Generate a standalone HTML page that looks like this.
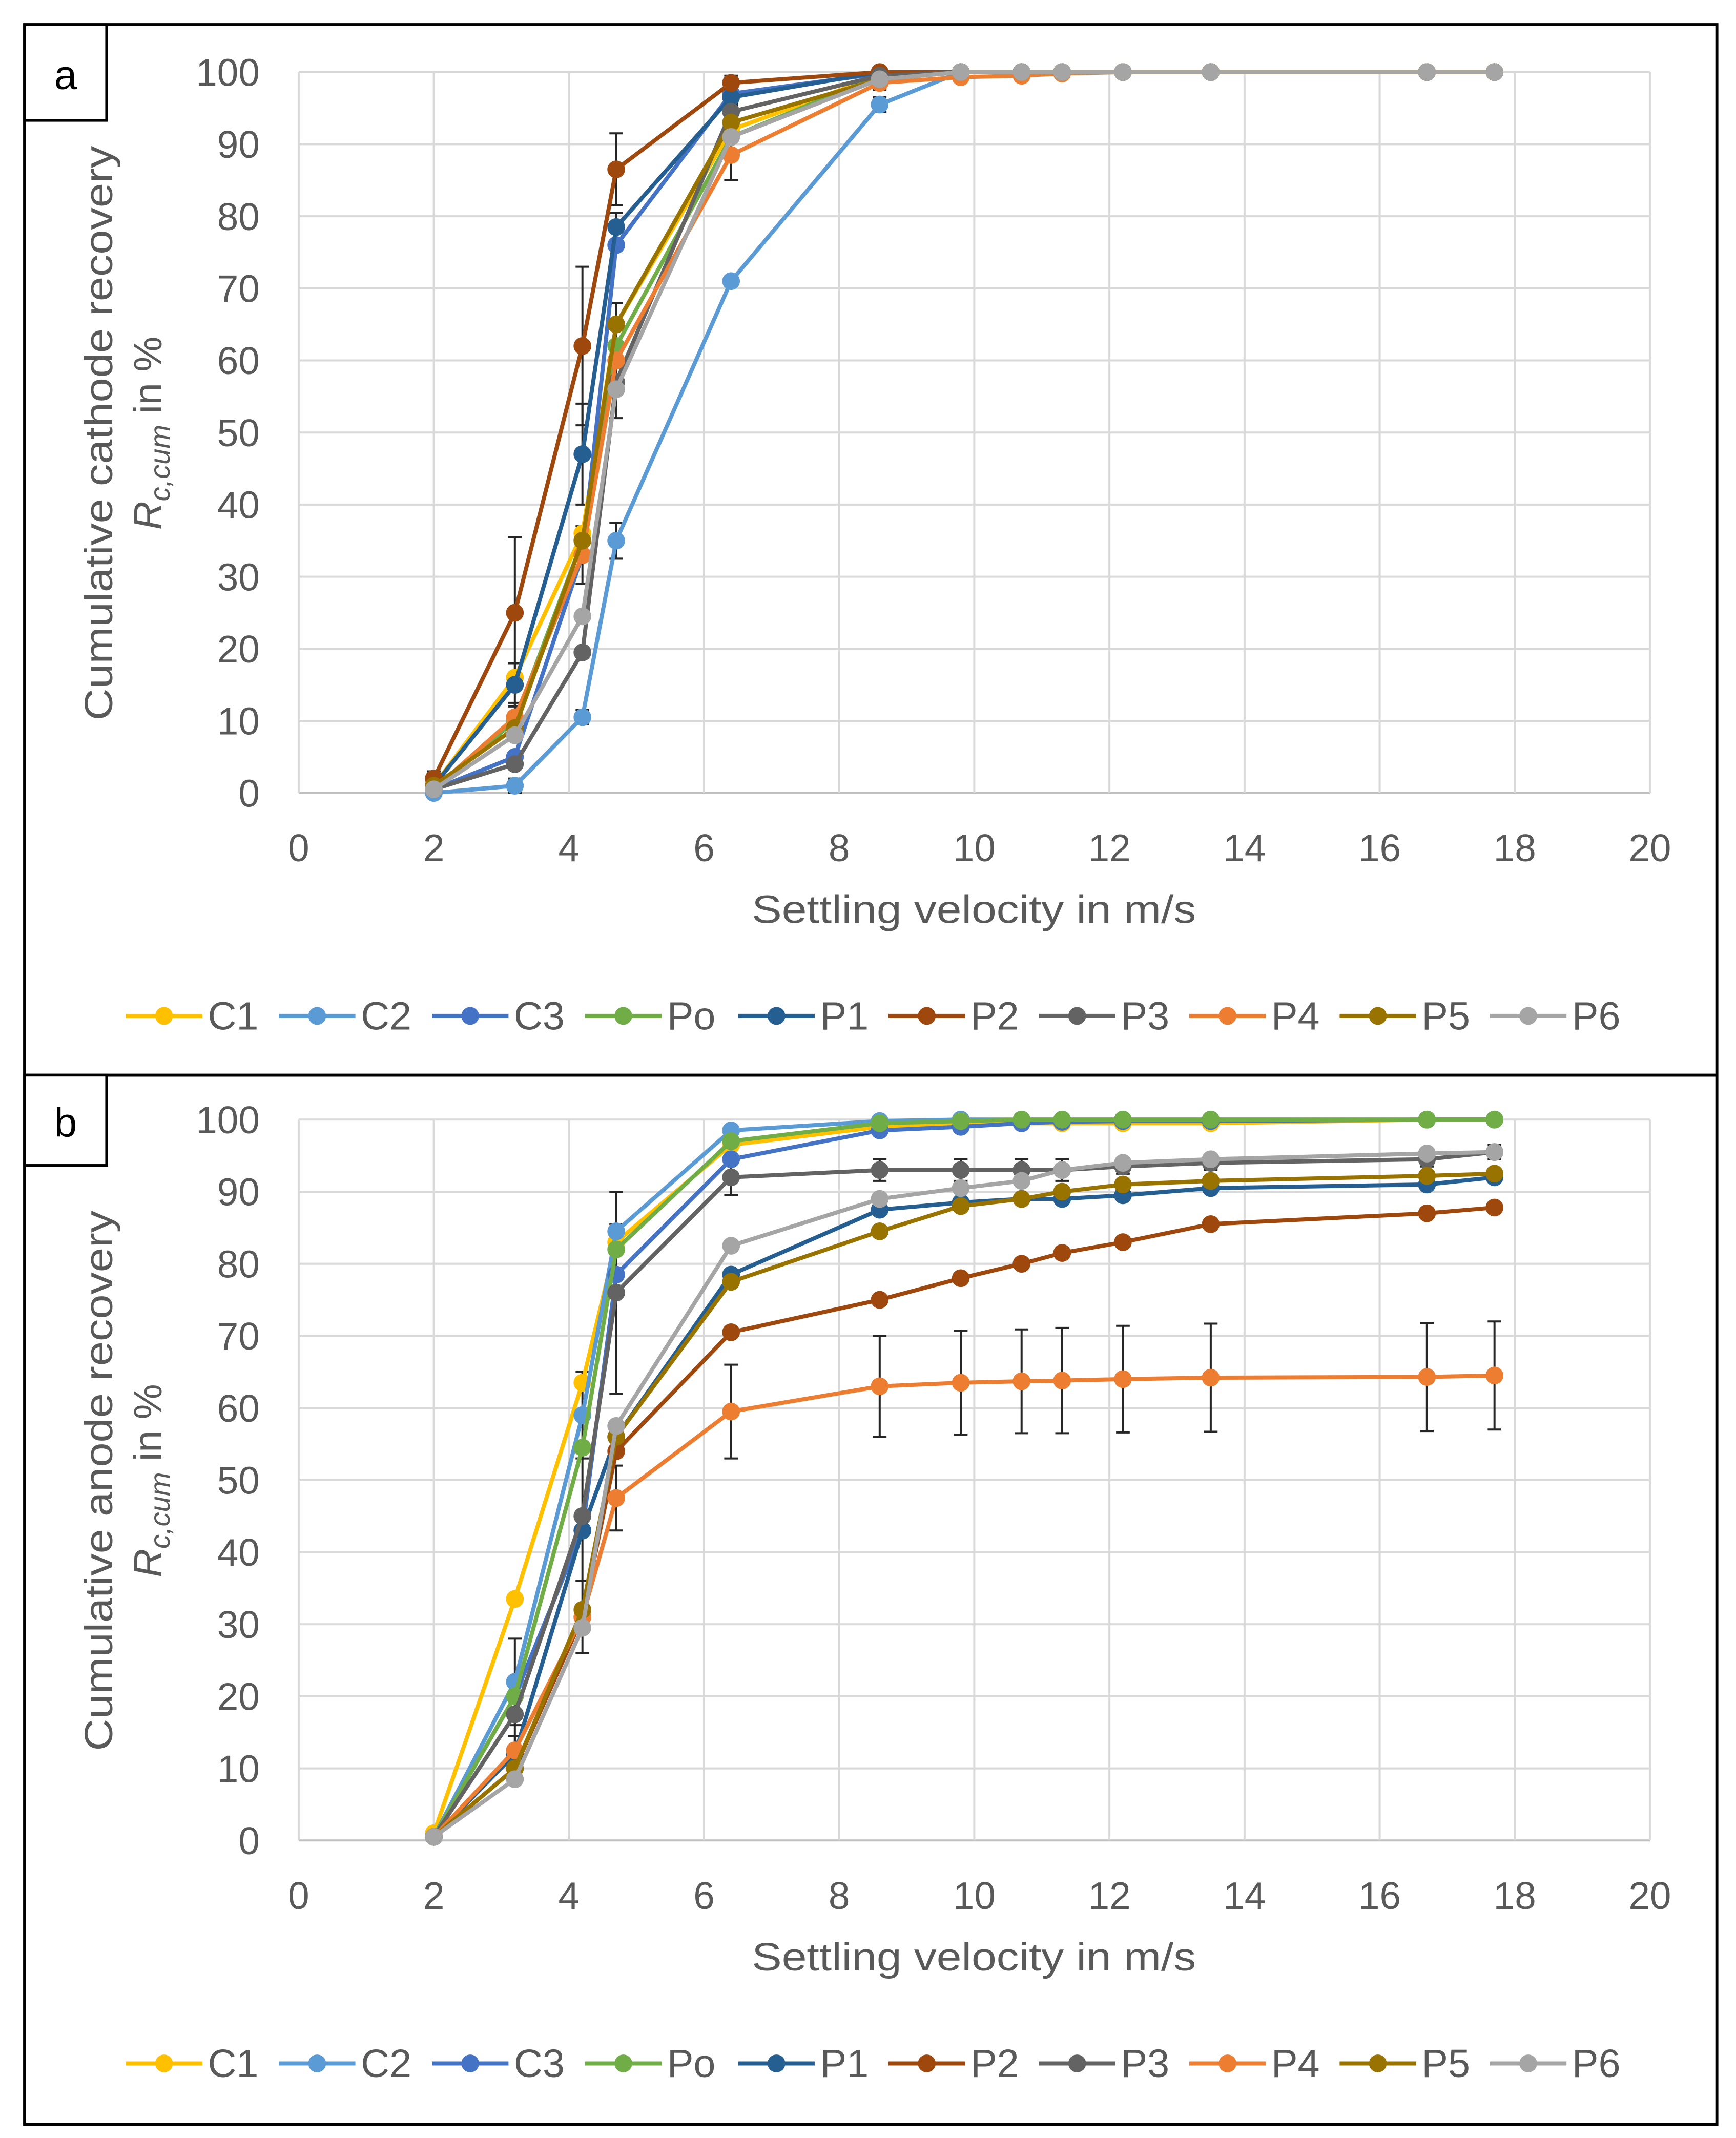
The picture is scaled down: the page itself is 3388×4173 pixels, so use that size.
<!DOCTYPE html>
<html><head><meta charset="utf-8"><style>
html,body{margin:0;padding:0;background:#fff}
svg{display:block}
text{font-family:"Liberation Sans",Arial,sans-serif;fill:#595959}
</style></head><body>
<svg id="fig" width="3388" height="4173" viewBox="0 0 1270 1563" preserveAspectRatio="none" xmlns="http://www.w3.org/2000/svg">
<rect x="0" y="0" width="1270" height="1563" fill="#fff"/>
<rect x="18" y="18" width="1238" height="1535" fill="none" stroke="#000" stroke-width="2.2"/>
<line x1="18" y1="786" x2="1256" y2="786" stroke="#000" stroke-width="2.2"/>
<rect x="18" y="18" width="60" height="70" fill="#fff" stroke="#000" stroke-width="2"/>
<text x="48" y="65" font-size="30" text-anchor="middle" style="fill:#000">a</text>
<rect x="18" y="786" width="60" height="66" fill="#fff" stroke="#000" stroke-width="2"/>
<text x="48" y="831" font-size="30" text-anchor="middle" style="fill:#000">b</text>
<g id="pa"></g><g id="pb"></g>
</svg>
<script>
const xs = [2, 3.2, 4.2, 4.7, 6.4, 8.6, 9.8, 10.7, 11.3, 12.2, 13.5, 16.7, 17.7];
const seriesNames = ["C1","C2","C3","Po","P1","P2","P3","P4","P5","P6"];
const seriesColors = ["#FFC000","#5B9BD5","#4472C4","#70AD47","#255E91","#9E480E","#636363","#ED7D31","#997300","#A5A5A5"];
const xTicks = [0,2,4,6,8,10,12,14,16,18,20];
const yTicks = [0,10,20,30,40,50,60,70,80,90,100];
// Panel a: cumulative cathode recovery
const aC1 = [1, 16, 36, 65, 92, 99.5, 100, 100, 100, 100, 100, 100, 100];
const aC2 = [0, 1, 10.5, 35, 71, 95.5, 100, 100, 100, 100, 100, 100, 100];
const aC3 = [0.5, 5, 33, 76, 97, 99.8, 100, 100, 100, 100, 100, 100, 100];
const aPo = [0.5, 10, 35, 62, 91, 99.5, 100, 100, 100, 100, 100, 100, 100];
const aP1 = [1, 15, 47, 78.5, 96.5, 100, 100, 100, 100, 100, 100, 100, 100];
const aP2 = [2, 25, 62, 86.5, 98.5, 100, 100, 100, 100, 100, 100, 100, 100];
const aP3 = [0.5, 4, 19.5, 57, 94.5, 99.5, 100, 100, 100, 100, 100, 100, 100];
const aP4 = [0.5, 10.5, 33, 60, 88.5, 98.5, 99.3, 99.5, 99.8, 100, 100, 100, 100];
const aP5 = [1, 9, 35, 65, 93, 99, 100, 100, 100, 100, 100, 100, 100];
const aP6 = [0.5, 8, 24.5, 56, 91, 99, 100, 100, 100, 100, 100, 100, 100];
const aErrP2 = [1, 10.5, 11, 5, 1, 0.5, 0, 0, 0, 0, 0, 0, 0];
const aErrP4 = [0.5, 2, 4, 8, 3.5, 1, 0.5, 0, 0, 0, 0, 0, 0];
const aErrP1 = [0.5, 3, 7, 2, 1, 0, 0, 0, 0, 0, 0, 0, 0];
const aErrC2 = [0, 1, 1, 2.5, 0.5, 1, 0, 0, 0, 0, 0, 0, 0];
// Panel b: cumulative anode recovery
const bC1 = [1, 33.5, 63.5, 83, 96.5, 99, 99.3, 99.5, 99.5, 99.5, 99.5, 100, 100];
const bC2 = [0.5, 22, 59, 84.5, 98.5, 99.8, 100, 100, 100, 100, 100, 100, 100];
const bC3 = [0.5, 20, 43, 78.5, 94.5, 98.5, 99, 99.5, 99.7, 99.8, 99.8, 100, 100];
const bPo = [0.5, 20, 54.5, 82, 97, 99.5, 99.8, 100, 100, 100, 100, 100, 100];
const bP1 = [0.5, 12, 43, 56, 78.5, 87.5, 88.5, 89, 89, 89.5, 90.5, 91, 92];
const bP2 = [0.5, 10, 31, 54, 70.5, 75, 78, 80, 81.5, 83, 85.5, 87, 87.8];
const bP3 = [0.5, 17.5, 45, 76, 92, 93, 93, 93, 93, 93.5, 94, 94.5, 95.5];
const bP4 = [0.5, 12.5, 31, 47.5, 59.5, 63, 63.5, 63.7, 63.8, 64, 64.2, 64.3, 64.5];
const bP5 = [0.5, 10, 32, 56, 77.5, 84.5, 88, 89, 90, 91, 91.5, 92.2, 92.5];
const bP6 = [0.5, 8.5, 29.5, 57.5, 82.5, 89, 90.5, 91.5, 93, 94, 94.5, 95.3, 95.5];
const bErrP4 = [0.5, 2, 5, 4.5, 6.5, 7, 7.2, 7.2, 7.3, 7.4, 7.5, 7.5, 7.5];
const bErrP3 = [0.5, 5, 9, 14, 2.5, 1.5, 1.5, 1.5, 1.5, 1, 1, 1, 1];
const bErrC2 = [0.5, 6, 6, 1, 0.5, 0, 0, 0, 0, 0, 0, 0, 0];

const NS = "http://www.w3.org/2000/svg";
function mk(tag, attrs, parent){const e=document.createElementNS(NS,tag);for(const k in attrs)e.setAttribute(k,attrs[k]);parent.appendChild(e);return e;}

function drawPanel(g, top, key, data, errs, titleLine1, titleLen){
  const X0=218.5, X1=1207, Y100=top, Y0=top+527;
  const sx=v=>X0+(X1-X0)*v/20;
  const sy=v=>Y0-(Y0-Y100)*v/100;
  yTicks.forEach(t=>{
    const l=mk("line",{x1:X0,x2:X1,y1:sy(t),y2:sy(t),stroke:t===0?"#BFBFBF":"#D9D9D9","stroke-width":1.5},g);
    
    
    const tx=mk("text",{x:190,y:sy(t)+10,"font-size":28,"text-anchor":"end"},g);tx.textContent=t;
    
    
  });
  xTicks.forEach(t=>{
    const l=mk("line",{x1:sx(t),x2:sx(t),y1:Y100,y2:Y0,stroke:"#D9D9D9","stroke-width":1.5},g);
    
    
    const tx=mk("text",{x:sx(t),y:Y0+50,"font-size":28,"text-anchor":"middle"},g);tx.textContent=t;
    
    
  });
  const xt=mk("text",{x:550,y:Y0+95,"font-size":29,textLength:325,lengthAdjust:"spacingAndGlyphs"},g);xt.textContent="Settling velocity in m/s";
  
  
  const cy=top+264;
  const yt=mk("text",{x:-titleLen/2,y:0,"font-size":29,textLength:titleLen,lengthAdjust:"spacingAndGlyphs",transform:`translate(82,${cy}) rotate(-90)`},g);yt.textContent=titleLine1;
  
  
  const yt2=mk("text",{x:0,y:0,"font-size":29,"text-anchor":"middle",transform:`translate(118,${cy}) rotate(-90)`},g);
  
  
  const ts1=mk("tspan",{"font-style":"italic"},yt2);ts1.textContent="R";
  const ts2=mk("tspan",{"font-style":"italic","font-size":21,dy:6},yt2);ts2.textContent="c,cum";
  const ts3=mk("tspan",{dy:-6},yt2);ts3.textContent=" in %";
  Object.keys(errs).forEach(name=>{
    const vals=data[name], e=errs[name];
    xs.forEach((x,i)=>{ if(!e[i]) return;
      const px=sx(x), a=sy(vals[i]+e[i]), b=sy(vals[i]-e[i]);
      const p=mk("path",{d:`M${px},${a}V${b}M${px-5},${a}H${px+5}M${px-5},${b}H${px+5}`,stroke:"#262626","stroke-width":1.5,fill:"none"},g);
      
      
    });
  });
  seriesNames.forEach((name,si)=>{
    const vals=data[name], col=seriesColors[si];
    const d=xs.map((x,i)=>(i?"L":"M")+sx(x)+","+sy(vals[i])).join("");
    const ln=mk("path",{d:d,stroke:col,"stroke-width":3,fill:"none","stroke-linejoin":"round"},g);
    
    
    xs.forEach((x,i)=>{
      const c=mk("circle",{cx:sx(x),cy:sy(vals[i]),r:6.5,fill:col},g);
      
      
    });
  });
  const ly=top+690;
  const lx=[92,204,316,428,540,650,760,870,980,1090];
  seriesNames.forEach((name,si)=>{
    const x=lx[si], col=seriesColors[si];
    const l=mk("line",{x1:x,x2:x+56,y1:ly,y2:ly,stroke:col,"stroke-width":3},g);
    
    
    const c=mk("circle",{cx:x+28,cy:ly,r:6.5,fill:col},g);
    
    
    const t=mk("text",{x:x+60,y:ly+10,"font-size":29},g);t.textContent=name;
    
    
  });
}
const gA=document.getElementById("pa"), gB=document.getElementById("pb");




drawPanel(gA,52.7,"a",{C1:aC1,C2:aC2,C3:aC3,Po:aPo,P1:aP1,P2:aP2,P3:aP3,P4:aP4,P5:aP5,P6:aP6},{P2:aErrP2,P4:aErrP4,P1:aErrP1,C2:aErrC2},"Cumulative cathode recovery",420);
drawPanel(gB,818.5,"b",{C1:bC1,C2:bC2,C3:bC3,Po:bPo,P1:bP1,P2:bP2,P3:bP3,P4:bP4,P5:bP5,P6:bP6},{P4:bErrP4,P3:bErrP3,C2:bErrC2},"Cumulative anode recovery",395);
</script>
</body></html>
